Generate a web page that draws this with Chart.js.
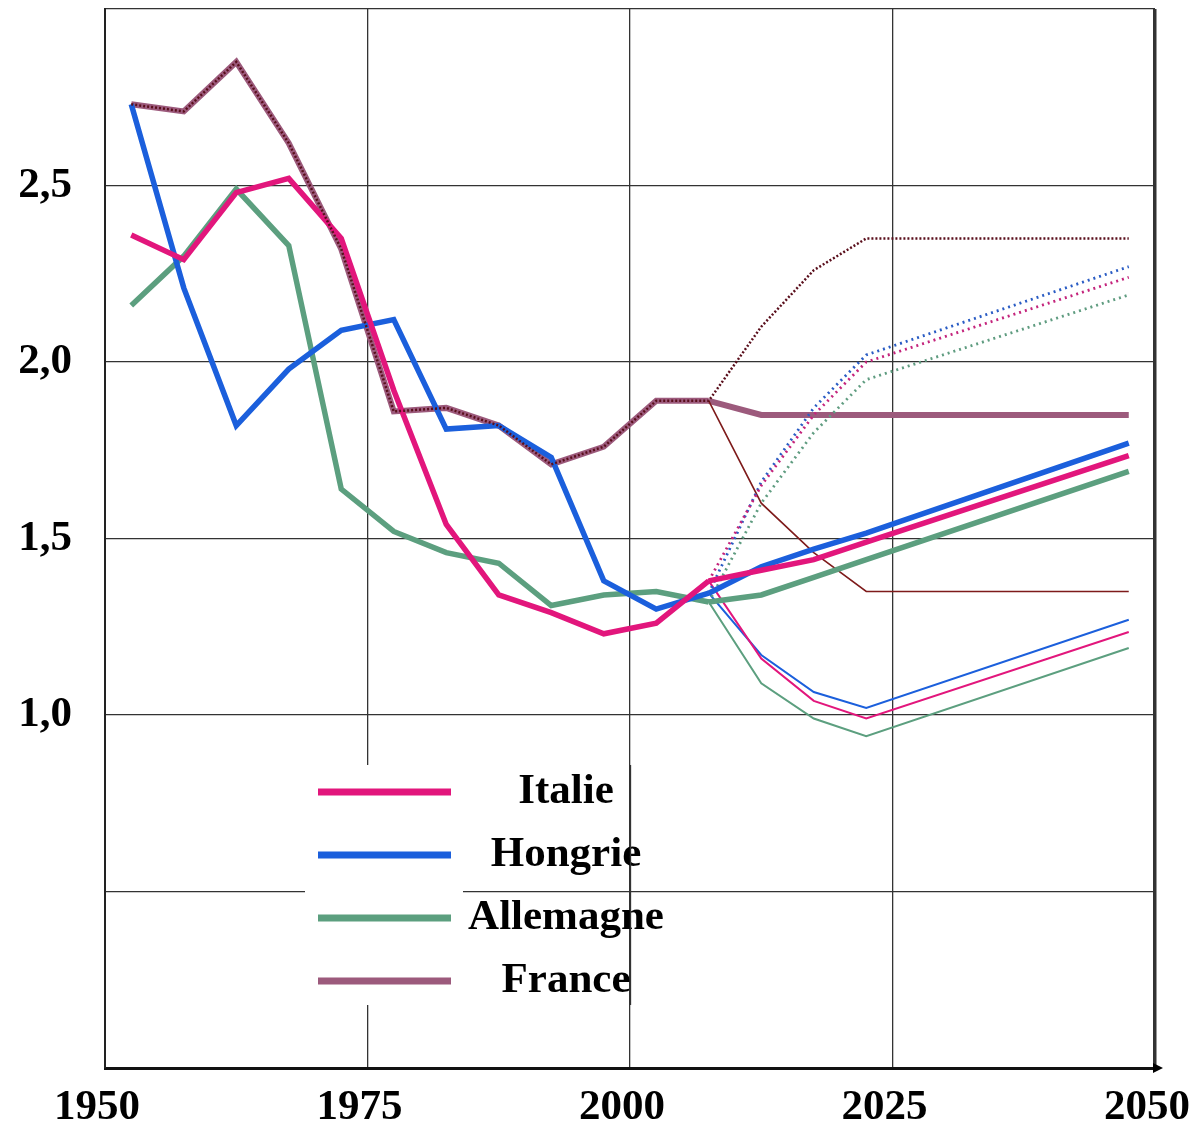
<!DOCTYPE html>
<html>
<head>
<meta charset="utf-8">
<script src="https://cdn.jsdelivr.net/npm/chart.js@4/dist/chart.umd.min.js"></script>
<style>
  html, body { margin: 0; padding: 0; background: #ffffff; }
  #wrap { width: 1198px; height: 1125px; position: relative; }
</style>
</head>
<body>
<div id="wrap"><canvas id="c" width="1198" height="1125"></canvas></div>
<script>
// ---- data ----
const yearsHist = [1952.5, 1957.5, 1962.5, 1967.5, 1972.5, 1977.5, 1982.5, 1987.5, 1992.5, 1997.5, 2002.5, 2007.5];
const yearsProj = [2007.5, 2012.5, 2017.5, 2022.5, 2047.5];

const italie    = [2.36, 2.29, 2.48, 2.52, 2.35, 1.92, 1.54, 1.34, 1.29, 1.23, 1.26, 1.38];
const hongrie   = [2.73, 2.21, 1.82, 1.98, 2.09, 2.12, 1.81, 1.82, 1.73, 1.38, 1.30, 1.345];
const allemagne = [2.16, 2.30, 2.49, 2.33, 1.64, 1.52, 1.46, 1.43, 1.31, 1.34, 1.35, 1.32];
const france    = [2.73, 2.71, 2.85, 2.62, 2.32, 1.86, 1.87, 1.82, 1.71, 1.76, 1.89, 1.89];

const italieMoy    = [1.38, 1.41, 1.44, 1.49, 1.735];
const italieBas    = [1.38, 1.16, 1.04, 0.99, 1.235];
const italieHaut   = [1.38, 1.65, 1.85, 2.00, 2.24];
const hongrieMoy   = [1.345, 1.42, 1.47, 1.515, 1.77];
const hongrieBas   = [1.345, 1.17, 1.065, 1.02, 1.27];
const hongrieHaut  = [1.345, 1.66, 1.87, 2.02, 2.27];
const allemagneMoy = [1.32, 1.34, 1.39, 1.44, 1.69];
const allemagneBas = [1.32, 1.09, 0.99, 0.94, 1.19];
const allemagneHaut= [1.32, 1.60, 1.80, 1.95, 2.19];
const franceMoy    = [1.89, 1.85, 1.85, 1.85, 1.85];
const franceBas    = [1.89, 1.60, 1.46, 1.35, 1.35];
const franceHaut   = [1.89, 2.10, 2.26, 2.35, 2.35];

const xTicks = [1950, 1975, 2000, 2025, 2050];
const yTickLabels = { "1": "1,0", "1.5": "1,5", "2": "2,0", "2.5": "2,5" };
const legendLabels = ["Italie", "Hongrie", "Allemagne", "France"];

// ---- styles ----
const C_IT = '#e2167c', C_HU = '#1b5fdc', C_DE = '#5c9f7f', C_FR = '#9c5a7c', C_FR_DARK = '#5a0f1c', C_FR_LOW = '#7e1b1b';
const FONT = 'bold 43px "Liberation Serif", "Times New Roman", serif';

function pts(xs, ys) { return xs.map((x, i) => ({ x: x, y: ys[i] })); }

const franceDotted = pts(yearsHist.concat(yearsProj.slice(1)), france.concat(franceHaut.slice(1)));

function ds(label, data, color, width, dash) {
  return { label: label, data: data, borderColor: color, backgroundColor: color, borderWidth: width,
           borderDash: dash || [], pointRadius: 0, tension: 0, fill: false, borderJoinStyle: 'miter', borderCapStyle: 'butt' };
}

const datasets = [
  ds('France (haut)', franceDotted, C_FR_DARK, 2.5, [2, 2]),
  ds('Italie', pts(yearsHist, italie), C_IT, 5.5),
  ds('Hongrie', pts(yearsHist, hongrie), C_HU, 5.5),
  ds('Allemagne', pts(yearsHist, allemagne), C_DE, 5.5),
  ds('Italie moy', pts(yearsProj, italieMoy), C_IT, 5.5),
  ds('Hongrie moy', pts(yearsProj, hongrieMoy), C_HU, 5.5),
  ds('Allemagne moy', pts(yearsProj, allemagneMoy), C_DE, 5.5),
  ds('Italie haut', pts(yearsProj, italieHaut), '#c4247c', 2.8, [2, 4]),
  ds('Hongrie haut', pts(yearsProj, hongrieHaut), '#2a5cc4', 2.8, [2, 4]),
  ds('Allemagne haut', pts(yearsProj, allemagneHaut), '#5f9c80', 2.8, [2, 4]),
  ds('Italie bas', pts(yearsProj, italieBas), C_IT, 2),
  ds('Hongrie bas', pts(yearsProj, hongrieBas), C_HU, 2),
  ds('Allemagne bas', pts(yearsProj, allemagneBas), C_DE, 2),
  ds('France bas', pts(yearsProj, franceBas), C_FR_LOW, 1.6),
  ds('France', pts(yearsHist, france), C_FR, 6),
  ds('France moy', pts(yearsProj, franceMoy), C_FR, 6)
];
const legendColors = [C_IT, C_HU, C_DE, C_FR];

const legendPlugin = {
  id: 'insideLegend',
  beforeDatasetsDraw(chart) {
    const ctx = chart.ctx;
    const xs = chart.scales.x;
    ctx.save();
    ctx.fillStyle = '#ffffff';
    ctx.fillRect(305, 765, 158, 240);
    ctx.font = FONT;
    ctx.textAlign = 'center';
    ctx.textBaseline = 'alphabetic';
    legendLabels.forEach((lab, i) => {
      const ly = 792 + i * 63;
      ctx.strokeStyle = legendColors[i];
      ctx.lineWidth = 7;
      ctx.lineCap = 'butt';
      ctx.beginPath(); ctx.moveTo(318, ly); ctx.lineTo(451, ly); ctx.stroke();
      ctx.fillStyle = '#000000';
      ctx.fillText(lab, 566, ly + 11);
    });
    // grid line at 2000 shows over the legend text in the reference
    const gx = Math.round(xs.getPixelForValue(2000)) + 0.5;
    ctx.strokeStyle = '#333333';
    ctx.lineWidth = 1.3;
    ctx.beginPath(); ctx.moveTo(gx, 765); ctx.lineTo(gx, 1005); ctx.stroke();
    ctx.restore();
  },
  afterDraw(chart) {
    const ctx = chart.ctx;
    const a = chart.chartArea;
    ctx.save();
    ctx.fillStyle = '#000000';
    ctx.beginPath();
    ctx.moveTo(a.right - 2, a.bottom - 5);
    ctx.lineTo(a.right + 8, a.bottom);
    ctx.lineTo(a.right - 2, a.bottom + 5);
    ctx.closePath();
    ctx.fill();
    ctx.restore();
  }
};

function noPad(s) { s.paddingTop = 0; s.paddingBottom = 0; s.paddingLeft = 0; s.paddingRight = 0; }

new Chart(document.getElementById('c'), {
  type: 'line',
  data: { datasets: datasets },
  options: {
    responsive: false,
    animation: false,
    events: [],
    layout: { padding: { left: 0, right: 43, top: 9, bottom: 0 } },
    plugins: { legend: { display: false }, tooltip: { enabled: false }, title: { display: false } },
    scales: {
      x: {
        type: 'linear', min: 1950, max: 2050,
        afterBuildTicks: (s) => { s.ticks = xTicks.map(v => ({ value: v })); },
        afterFit: (s) => { s.height = 57; noPad(s); },
        ticks: { color: '#000', font: { family: '"Liberation Serif", serif', size: 43, weight: 'bold' }, padding: 14, labelOffset: -8, maxRotation: 0, autoSkip: false,
                 callback: (v) => String(v) },
        grid: { color: '#333333', lineWidth: (c) => (c.tick && c.tick.value === 2050 ? 3.5 : 1.3), drawTicks: false },
        border: { color: '#111111', width: 3 }
      },
      y: {
        type: 'linear', min: 0, max: 3,
        afterBuildTicks: (s) => { s.ticks = [0, 0.5, 1, 1.5, 2, 2.5, 3].map(v => ({ value: v })); },
        afterFit: (s) => { s.width = 105; noPad(s); },
        ticks: { color: '#000', font: { family: '"Liberation Serif", serif', size: 43, weight: 'bold' }, padding: 33,
                 callback: (v) => (yTickLabels[String(v)] || '') },
        grid: { color: '#333333', lineWidth: 1.3, drawTicks: false },
        border: { color: '#222222', width: 2 }
      }
    }
  },
  plugins: [legendPlugin]
});
</script>
</body>
</html>
